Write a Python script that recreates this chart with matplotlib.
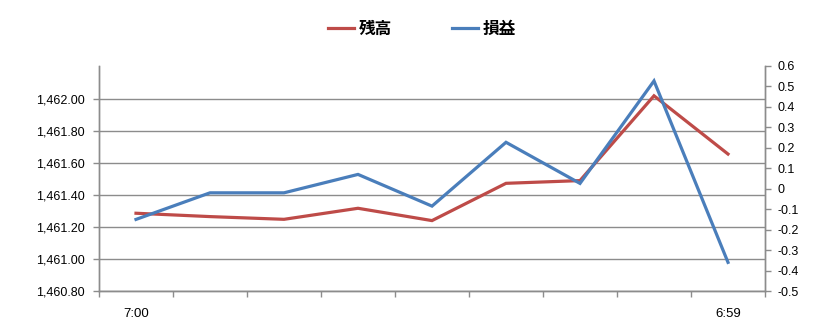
import matplotlib
matplotlib.use("Agg")
import matplotlib.pyplot as plt
import numpy as np
from matplotlib.ticker import FixedLocator

# ---- data ----
categories = ["7:00", "", "", "", "", "", "", "", "6:59"]
balance = [1461.286, 1461.265, 1461.248, 1461.317, 1461.240, 1461.473, 1461.490, 1462.020, 1461.656]
pnl = [-0.15, -0.02, -0.02, 0.07, -0.085, 0.227, 0.026, 0.527, -0.36]
left_ticks = [1460.80, 1461.00, 1461.20, 1461.40, 1461.60, 1461.80, 1462.00]
right_ticks = [-0.5, -0.4, -0.3, -0.2, -0.1, 0, 0.1, 0.2, 0.3, 0.4, 0.5, 0.6]
series_names = ["残高", "損益"]

plt.rcParams["font.family"] = ["Liberation Sans", "DejaVu Sans"]
plt.rcParams["font.size"] = 9

red = "#BE4B48"
blue = "#4A7EBB"
grid_c = "#8C8C8C"
spine_c = "#8C8C8C"

fig = plt.figure(figsize=(8.30, 3.24), dpi=100)
ax = fig.add_axes([99/830, 1-291/324, (765-99)/830, (291-66)/324])
ax2 = ax.twinx()

x = np.arange(len(categories))
l1, = ax.plot(x, balance, color=red, lw=2.3, solid_joinstyle="miter", zorder=3)
l2, = ax2.plot(x, pnl, color=blue, lw=2.3, solid_joinstyle="miter", zorder=3)

ax.set_xlim(-0.5, len(categories) - 0.5)
ax.set_ylim(1460.8, 1460.8 + 1.2 * 225 / 192)
ax2.set_ylim(-0.5, 0.6)

ax.set_yticks(left_ticks)
ax.set_yticklabels([f"{v:,.2f}" for v in left_ticks])
ax2.set_yticks(right_ticks)
ax2.set_yticklabels([("0" if v == 0 else f"{v:g}") for v in right_ticks])

ax.set_xticks(x)
ax.set_xticklabels(categories)
ax.xaxis.set_minor_locator(FixedLocator(np.arange(-0.5, len(categories), 1.0)))
ax.tick_params(axis="x", which="major", length=0, pad=12, labelsize=9.5)
ax.tick_params(axis="x", which="minor", length=4, width=1, color=spine_c, direction="out")

ax.tick_params(axis="y", length=4, width=1, color=spine_c, direction="out", pad=6, labelsize=9)
ax2.tick_params(axis="y", length=4, width=1, color=spine_c, direction="out", pad=5, labelsize=9)

ax.grid(axis="y", color=grid_c, lw=1.0)
ax.set_axisbelow(True)

for a in (ax, ax2):
    a.spines["top"].set_visible(False)
    for s in ("left", "right", "bottom"):
        a.spines[s].set_color(spine_c)
        a.spines[s].set_linewidth(1.0)
ax.patch.set_visible(False)

fig.legend([l1, l2], series_names, loc="center", bbox_to_anchor=(0.508, 0.910),
           ncol=2, frameon=False, handlelength=1.6, handletextpad=0.25,
           columnspacing=3.6,
           prop={"family": ["Noto Sans CJK JP", "DejaVu Sans"], "size": 12, "weight": "bold"})

fig.savefig("out.png", dpi=100)
